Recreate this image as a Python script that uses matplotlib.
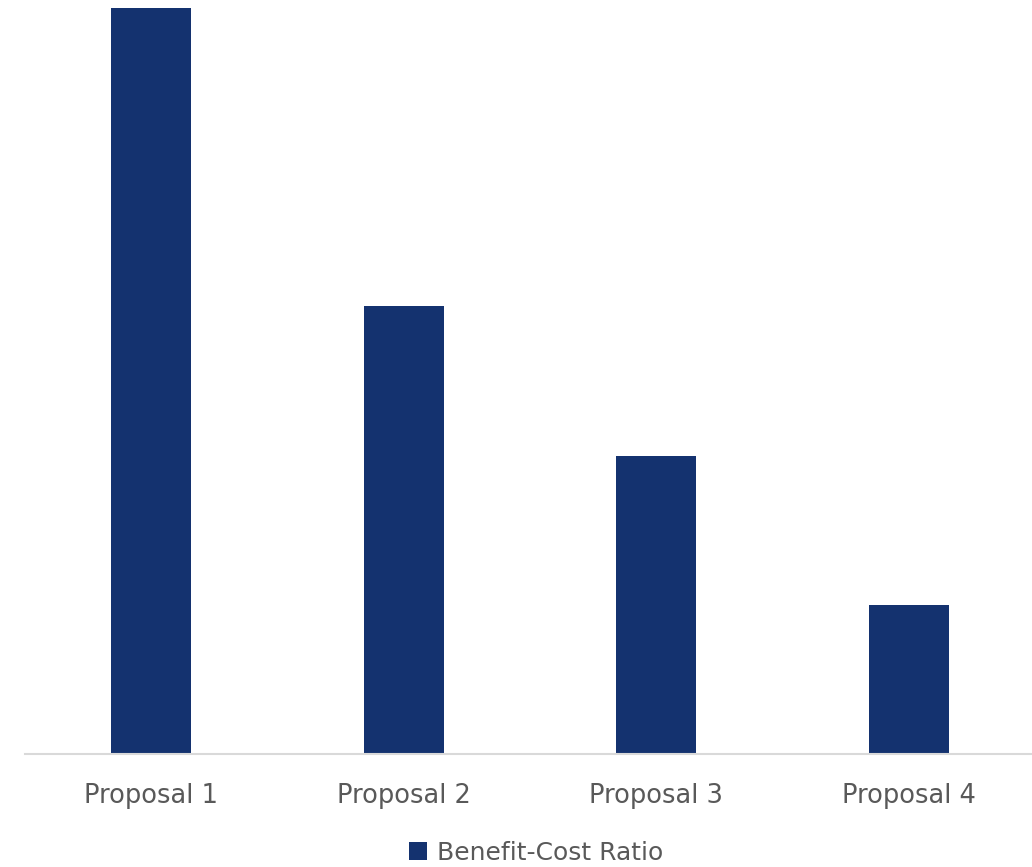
import matplotlib.pyplot as plt

categories = ['Proposal 1', 'Proposal 2', 'Proposal 3', 'Proposal 4']
ratios = [5, 3, 2, 1]
series_name = 'Benefit-Cost Ratio'

bar_color = '#14326F'
text_color = '#595959'

fig = plt.figure(figsize=(10.32, 8.67), dpi=100)
ax = fig.add_axes([25 / 1032, 1 - 754 / 867, 1 - 25 / 1032 + 0.003, (754 - 8) / 867])

x = range(len(categories))
ax.bar(x, ratios, width=0.316, color=bar_color, label=series_name, zorder=2)

ax.set_xlim(-0.5, len(categories) - 0.5)
ax.set_ylim(0, 5)
ax.set_yticks([])
ax.set_xticks(list(x))
ax.set_xticklabels(categories, fontsize=18.5, color=text_color)
ax.tick_params(axis='x', length=0, pad=21)

for side in ['top', 'right', 'left']:
    ax.spines[side].set_visible(False)
ax.spines['bottom'].set_color('#D9D9D9')
ax.spines['bottom'].set_linewidth(1.5)

fig.legend(loc='center', bbox_to_anchor=(536 / 1032, 1 - 853 / 867), frameon=False,
           fontsize=18, labelcolor=text_color, handlelength=0.72, handleheight=0.72,
           handletextpad=0.38, borderaxespad=0, borderpad=0)

fig.savefig('out.png', dpi=100)
